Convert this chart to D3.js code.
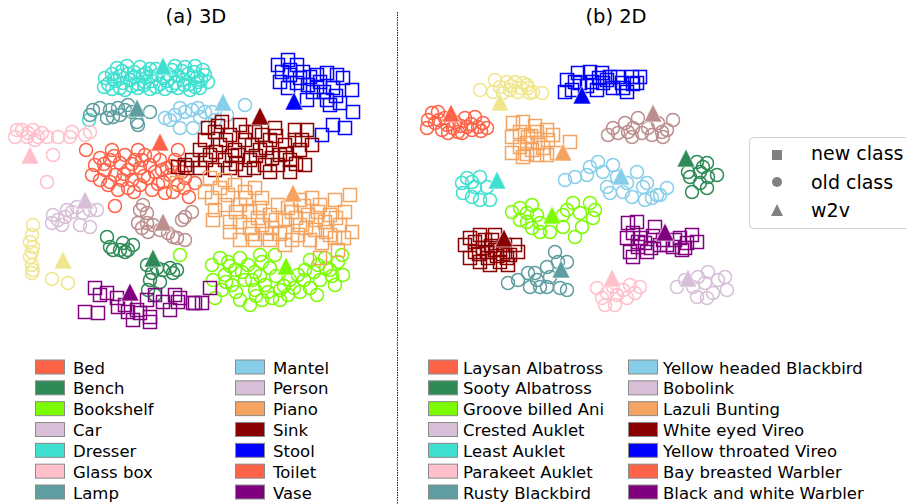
<!DOCTYPE html>
<html>
<head>
<meta charset="utf-8">
<script src="https://cdn.jsdelivr.net/npm/d3@7"></script>
<style>
  body { margin: 0; background: #fff; }
  svg { display: block; font-family: "DejaVu Sans", sans-serif; }
</style>
</head>
<body>
<svg id="chart" width="906" height="504"></svg>
<script>
// ---------- class colours ----------
const classColor = {
  bed: "#FF6347", bench: "#2E8B57", bookshelf: "#7CFC00", car: "#D8BFD8",
  dresser: "#40E0D0", glassBox: "#FFC0CB", lamp: "#5F9EA0", mantel: "#87CEEB",
  person: "#D8BFD8", piano: "#F4A460", sink: "#8B0000", stool: "#0000FF",
  toilet: "#FF6347", vase: "#800080", khakiGroup: "#F0E68C", rosyGroup: "#BC8F8F"
};

// ---------- (a) 3D embedding: old classes (circles) ----------
const dresser3d = [[-41.5,56],[-36.5,57],[-30,56.5],[-25,55.5],[-12.5,57],[-7.5,56.5],[-2.5,57],[1.5,55],
  [-47.5,51],[-44,53],[-40,52],[-36,53],[-32.5,51.5],[-28.5,52.5],[-25,51.5],[-21,52.5],[-16,53],[-11,52],[-6,53],[-1.5,51.5],[2.5,52.5],
  [-46,48],[-42.5,49.5],[-38.5,48.5],[-35,50],[-31,48],[-27.5,49],[-24,49.5],[-20,48],[-16.5,49.5],[-12.5,48.5],[-8.5,50],[-5,48],[-1,49],
  [-44,45.5],[-37.5,45],[-31,46],[-25,45.5],[-17.5,45.5],[-11,46],[-5,45],[0,46],[-55.5,30],
  [-43,50.5],[-39,54.5],[-33,54],[-27,53.5],[-22,55.5],[-18,51],[-14,55],[-9,54.5],[-3,54],[0.5,50],
  [-48,46.5],[-40,46],[-34,47],[-28,47.5],[-22,46.5],[-14,47],[-8,47.5],[-2.5,46.5],[4,49]];
const lamp3d = [[-53.5,35],[-55,32.5],[-45,35],[-43.5,31.5],[-41,36],[-37.5,35],[-34,34],[-31.5,29],[-31,27.5],[-25,34],[-46.5,31],[-50,36],[-40,32.5],[-36,37.5]];
const mantel3d = [[-17.5,31],[-15,30],[-10,36],[-7.5,34],[-4,35],[-10,26],[-3.5,26],[0,31.5],[2.5,34],[6,34],[7.5,30],[13.5,32.5],[22.5,37.5],[-12.5,32.5],[-1,36]];
const glassBox3d = [[-92.5,21.5],[-89,25],[-86.5,21.5],[-83.5,25],[-82.5,20],[-81,21.5],[-76.5,21.5],[-71,21.5],[-65,21.5],[-64,24],[-57.5,22.5],[-55,24],[-73.5,12.5],[-76.5,-1],[-91.5,25],[-86,23.5],[-79,23.5]];
const bed3d = [[-57,15],[-52.5,7.5],[-50,11],[-47.5,5],[-45,10],[-42.5,2.5],[-40,8.5],[-37.5,12.5],[-36,5],[-34,0],[-32.5,10],[-30,6],[-27.5,12.5],[-26,1],[-25,7.5],[-22.5,4],[-20,10],[-18.5,-1],[-16.5,6],[-15,2.5],[-12.5,10],[-11,-2.5],
  [-50,0],[-46,-2.5],[-41,-5],[-36,-4],[-30,-2.5],[-24,-5],[-17.5,-6.5],[-13.5,-6],[-54,2.5],[-44,15],[-31,15],[-7.5,1],[-2.5,-1.5],[-11,15],[-42.5,-13],[-5.5,-8.5],
  [-48,8],[-43,12],[-38,3],[-34,8],[-29,10],[-23,12],[-19,5],[-14,7],[-9,4],[-45,-1],[-39,0],[-28,2],[-21,-2],[-33,-6],[-8,-4]];
const bookshelf3d = [[6,-42.5],[10,-39],[14,-41],[17.5,-45],[20,-39],[24,-42.5],[27.5,-46],[31,-41],[35,-44],[12.5,-47.5],[16,-52.5],[22.5,-50],[27.5,-55],[32.5,-52.5],[36,-59],[40,-55],[45,-50],[49,-47.5],[52.5,-45],[55,-40],
  [59,-42.5],[62.5,-39],[65,-45],[69,-41],[71.5,-47.5],[67.5,-52.5],[60,-50],[55,-54],[50,-56],[44,-57.5],[31,-60],[25,-62.5],[20,-60],[11,-55],[7.5,-59],[30,-37.5],[37.5,-37.5],[58.5,-57.5],[71,-37.5],[6.5,-50],[-10,-37.5],
  [15,-43],[21,-46],[26,-50],[30,-48],[34,-56],[38,-48],[42,-53],[47,-54],[52,-50],[57,-46],[63,-44],[66,-48],[18,-56],[13,-51],[28,-58],[40,-60]];
const car3d = [[-73.5,-17.5],[-71,-20],[-69,-22.5],[-67.5,-18.5],[-64,-16],[-61.5,-13.5],[-58.5,-16.5],[-55,-15],[-51.5,-15],[-60,-22.5],[-55,-23.5],[-74,-21.5],[-66.5,-15]];
const khaki3d = [[-83.5,-22.5],[-84,-27.5],[-85,-31],[-83.5,-33.5],[-84,-36],[-85,-38.5],[-84,-42.5],[-83.5,-45],[-84,-46.5],[-74,-49.5],[-66,-51.5]];
const rosy3d = [[-28.5,-12.5],[-30,-15],[-26.5,-16.5],[-31,-21.5],[-29,-24],[-26,-26],[-23.5,-22.5],[-20,-25],[-16,-26.5],[-13.5,-28.5],[-11.5,-29],[-7.5,-30],[-9,-20],[-4,-16],[-26.5,-21.5],[-7.5,-18.5]];
const bench3d = [[-46.5,-28.5],[-45,-33.5],[-43.5,-35],[-40,-35],[-38.5,-31.5],[-36,-35],[-33.5,-32.5],[-37.5,-36],[-26.5,-42.5],[-24,-46.5],[-21.5,-44],[-18.5,-45],[-15,-44],[-13.5,-46.5],[-11.5,-45],[-25,-50],[-20,-51],[-26,-55],[-22.5,-57.5]];

// ---------- (a) 3D embedding: new classes (squares) ----------
const sink3d = [[-11,6.5],[-7.5,7.5],[-4,10],[0,15],[2.5,20],[5,12.5],[7.5,24],[10,17.5],[12.5,10],[15,22.5],[17.5,15],[20,27.5],[22.5,20],[25,10],[27.5,24],[30,15],[32.5,7.5],[35,20],[37.5,26],[40,12.5],
  [42.5,17.5],[45,10],[47.5,25],[50,15],[52.5,7.5],[56,17.5],[22.5,5],[15,6],[7.5,5],[35,4],[45,4],[0,6],[4,26],[11,29],[19,12.5],[26,17.5],[31,22.5],[39,7.5],[47.5,20],[53.5,25],[-6.5,6],
  [3,10],[8,14],[13,20],[18,8],[23,24],[28,12],[33,16],[38,22],[43,13],[48,8],[51,20],[27,6],[16,12],[36,11],[9,27]];
const stool3d = [[39,57.5],[44,60],[48.5,57.5],[40,49],[45,52.5],[51.5,54],[55,51.5],[58.5,52.5],[63.5,53.5],[68.5,52.5],[71.5,51],[76,45],[66.5,46],[63.5,40],[65,37.5],[70,38.5],[76.5,34],[61,22.5],[66.5,27.5],[72.5,26],
  [54,47.5],[48.5,48.5],[58.5,46.5],[53.5,40],[56.5,44],[45,55],[41,54],[50,51],[60,49],[62,44],[68,42],[44,46]];
const piano3d = [[2.5,-6],[6,-9],[10,-4],[14,-7.5],[17.5,-2.5],[22.5,-6],[27.5,-4],[31,-9],[7.5,-15],[12.5,-12.5],[20,-12.5],[25,-16],[30,-14],[35,-17.5],[39,-12.5],[42.5,-20],[46,-16],[50,-22.5],[54,-17.5],[57.5,-25],
  [60,-12.5],[65,-17.5],[70,-22.5],[72.5,-16],[76,-26],[67.5,-29],[62.5,-21],[55,-30],[49,-27.5],[42.5,-26],[36,-24],[31,-22.5],[25,-24],[20,-21],[15,-21],[56,-9],[50,-10],[20,-30],[27.5,-30],[35,-30],
  [42.5,-32.5],[61,-31.5],[69,-35],[15,-26],[6.5,-20],[75,-7.5],[67.5,-10],[65,-27.5],[5,1],[12.5,0],[60,-39],[-11.5,-1.5],
  [18,-16],[23,-9],[29,-19],[33,-27],[38,-20],[44,-14],[48,-19],[52,-13],[58,-20],[63,-26],[68,-19],[72,-29],[46,-30],[40,-27],[26,-27],[53,-24],[59,-16]];
const vase3d = [[-52.5,-54],[-50,-57.5],[-46.5,-56.5],[-41.5,-59],[-41,-63.5],[-37.5,-62.5],[-36,-66],[-31.5,-65],[-30,-66.5],[-25,-68.5],[-26.5,-60],[-22.5,-57.5],[-18.5,-61],[-15,-65],[-12.5,-57.5],[-11,-61],[-3.5,-61.5],
  [-57.5,-66],[-51,-66.5],[-33.5,-70],[-25,-71],[5,-54],[-2.5,-61.5],[1,-61.5],[-10,-59]];

// ---------- (a) 3D embedding: word-vector anchors (triangles) ----------
const w2v3d = [["dresser",-18.5,57],["lamp",-31.5,36],["mantel",11.5,39],["glassBox",-85,12.5],["bed",-20,19],["sink",30,32],["stool",47,39.5],
  ["piano",46.5,-6.5],["bookshelf",43,-43],["car",-57.5,-10],["khakiGroup",-68.5,-40],["rosyGroup",-18.5,-21],["bench",-23.5,-39],["vase",-35,-56]];

// ---------- (b) 2D embedding: old classes (circles) ----------
const khaki2d = [[-67.5,45],[-61,44],[-60,50],[-57.5,46.5],[-54,49],[-52.5,45],[-50,49],[-48.5,44],[-46,48.5],[-43.5,46],[-41,44],[-36.5,43.5],[-56,43.5],[-42.5,43.5],[-52,47],[-47,46],[-44,47.5]];
const laysan2d = [[-94,26],[-91.5,33.5],[-88.5,34],[-90,28.5],[-86.5,25],[-84,27.5],[-81,26],[-78.5,24],[-75,31],[-74,26.5],[-71.5,25],[-70,31.5],[-68.5,26.5],[-66,28.5],[-64,26],[-93.5,30],[-83.5,23.5],[-76.5,23.5],
  [-88,30],[-80,29],[-77,27],[-72,28],[-67,24.5],[-85,31]];
const rosy2d = [[-3.5,22.5],[-1,26],[1.5,23.5],[5,28.5],[6.5,24],[9,26],[11.5,31],[13.5,23.5],[16.5,26],[18.5,22.5],[21.5,28.5],[23.5,24],[26,25],[29,30],[24,21.5],[8.5,21.5]];
const sooty2d = [[36.5,4],[37.5,1.5],[41,9],[42.5,4],[44,6.5],[46,8.5],[46.5,1.5],[51,2.5],[38.5,-6],[46,-4],[42.5,-1.5]];
const yellowHeaded2d = [[-25,0],[-20,1.5],[-14,2.5],[-12.5,6.5],[-8.5,9],[-6,4],[-4,-3.5],[-1,7.5],[1,1.5],[4,-6],[6,-1.5],[11,4],[14,-3.5],[16,-1.5],[21,-7.5],[26,-4],[-2.5,-6.5],[8.5,-8.5],[15,-10],[18.5,-9],[22.5,-7.5]];
const leastAuklet2d = [[-76.5,-1.5],[-74,1],[-71.5,-1],[-67.5,1.5],[-64,-3.5],[-76,-6.5],[-71.5,-8.5],[-67.5,-10],[-62.5,-10],[-70,-3.5]];
const grooveBilled2d = [[-51.5,-16],[-47.5,-14],[-44,-16.5],[-41.5,-12.5],[-39,-17.5],[-44,-21],[-41.5,-24],[-37.5,-26],[-32.5,-26],[-37.5,-21.5],[-26,-17.5],[-24,-15],[-21,-11.5],[-17.5,-16.5],[-16.5,-23.5],[-20,-28.5],[-12.5,-11.5],[-10,-15],[-26,-23.5],[-47.5,-20],[-11,-19]];
const rusty2d = [[-53.5,-51.5],[-48.5,-50],[-43.5,-46.5],[-39,-50],[-37.5,-53.5],[-34,-43.5],[-30,-36],[-28.5,-41],[-24,-41],[-32.5,-48.5],[-27.5,-54],[-24,-55],[-42.5,-53.5],[-34,-53.5],[-40,-46.5]];
const parakeet2d = [[-9,-54],[-6.5,-59],[-4,-56.5],[-1,-53.5],[1,-57.5],[4,-55],[7.5,-52.5],[10,-56.5],[12.5,-53.5],[6,-59],[-5,-62.5],[0,-62.5]];
const bobolink2d = [[31,-53.5],[35,-50],[39,-53.5],[41.5,-48.5],[45,-51.5],[46.5,-46],[49,-56.5],[51.5,-50],[55,-48.5],[56,-55],[46,-59],[41,-58.5]];

// ---------- (b) 2D embedding: new classes (squares) ----------
const lazuli2d = [[-51,28.5],[-46,29],[-51.5,21.5],[-47.5,24],[-43.5,21.5],[-39,24],[-34,25],[-31,22.5],[-51.5,13.5],[-46,11.5],[-41.5,15],[-39,12.5],[-34,12.5],[-29,13.5],[-22.5,19],[-44,18.5],[-38.5,18.5],[-33.5,20],[-47.5,16.5],
  [-42,22],[-36,16],[-44,13],[-40,27]];
const yellowThroated2d = [[-24,50],[-21.5,45],[-18.5,53.5],[-17.5,48.5],[-12.5,54],[-11.5,49],[-9,45],[-6.5,53.5],[-6,48.5],[-2.5,51.5],[-1,46],[1.5,51.5],[3.5,48.5],[6,44],[8.5,51.5],[11,48.5],[12.5,51.5],[-25,44],
  [-14,47],[-4,50],[4,46],[9,48],[-20,49],[-8,51]];
const whiteEyed2d = [[-75,-32.5],[-72.5,-29],[-70,-36],[-67.5,-27.5],[-66,-34],[-63.5,-39],[-61.5,-30],[-60,-35],[-57.5,-41],[-55,-32.5],[-52.5,-37.5],[-50,-32.5],[-72.5,-39],[-67.5,-41],[-62.5,-42.5],[-57.5,-35],[-53.5,-42.5],[-48.5,-36],[-70,-31],[-60,-27.5],
  [-64,-36],[-59,-38],[-56,-37],[-62,-33],[-68,-37],[-54,-39],[-65,-30]];
const blackWhite2d = [[6.5,-21.5],[11,-21],[6,-29],[9,-26.5],[7.5,-36],[11.5,-33.5],[15,-31.5],[20,-23.5],[22.5,-32.5],[26,-32.5],[29,-33.5],[32.5,-29],[36,-31.5],[38.5,-27.5],[41,-31],[33.5,-35],[16,-36],[9,-38.5],[11.5,-31],
  [13,-29],[19,-28],[24,-30],[30,-30],[35,-34],[18,-34]];

// ---------- (b) 2D embedding: word-vector anchors (triangles) ----------
const w2v2d = [["khakiGroup",-57.5,39],["laysan",-82,33.5],["lazuli",-26,14],["yellowThroated",-16.5,42.5],["rosyGroup",19,33.5],["sooty",35.5,11],
  ["yellowHeaded",3,2],["leastAuklet",-59,0],["grooveBilled",-31.5,-17.5],["whiteEyed",-55.5,-29],["rusty",-27,-44.5],["blackWhite",25,-26],
  ["parakeet",-1.5,-49],["bobolink",36.5,-49]];

const birdColor = {
  laysan: "#FF6347", sooty: "#2E8B57", grooveBilled: "#7CFC00", crested: "#D8BFD8", leastAuklet: "#40E0D0",
  parakeet: "#FFC0CB", rusty: "#5F9EA0", yellowHeaded: "#87CEEB", bobolink: "#D8BFD8", lazuli: "#F4A460",
  whiteEyed: "#8B0000", yellowThroated: "#0000FF", bayBreasted: "#FF6347", blackWhite: "#800080",
  khakiGroup: "#F0E68C", rosyGroup: "#BC8F8F"
};

// ---------- legend labels ----------
const legend3dKeys = ["bed","bench","bookshelf","car","dresser","glassBox","lamp","mantel","person","piano","sink","stool","toilet","vase"];
const legend3dLabels = ["Bed","Bench","Bookshelf","Car","Dresser","Glass box","Lamp","Mantel","Person","Piano","Sink","Stool","Toilet","Vase"];
const legend2dKeys = ["laysan","sooty","grooveBilled","crested","leastAuklet","parakeet","rusty","yellowHeaded","bobolink","lazuli","whiteEyed","yellowThroated","bayBreasted","blackWhite"];
const legend2dLabels = ["Laysan Albatross","Sooty Albatross","Groove billed Ani","Crested Auklet","Least Auklet","Parakeet Auklet","Rusty Blackbird",
  "Yellow headed Blackbird","Bobolink","Lazuli Bunting","White eyed Vireo","Yellow throated Vireo","Bay breasted Warbler","Black and white Warbler"];
const markerLabels = ["new class","old class","w2v"];

// ---------- drawing ----------
const svg = d3.select("#chart");

const yScale = d3.scaleLinear().domain([-80, 80]).range([340, 20]);
const x3 = d3.scaleLinear().domain([-100, 100]).range([0, 400]);
const x2 = d3.scaleLinear().domain([-100, 100]).range([415, 815]);

const CIRCLE_R = 6.5, SQUARE = 13, TRI = 9;
const triPath = `M0,${-TRI}L${TRI},${TRI}L${-TRI},${TRI}Z`;

function drawCircles(g, xs, pts, color) {
  g.append("g").selectAll("circle").data(pts).join("circle")
    .attr("cx", d => xs(d[0])).attr("cy", d => yScale(d[1])).attr("r", CIRCLE_R)
    .attr("fill", "none").attr("stroke", color).attr("stroke-width", 1.5);
}
function drawSquares(g, xs, pts, color) {
  g.append("g").selectAll("rect").data(pts).join("rect")
    .attr("x", d => xs(d[0]) - SQUARE / 2).attr("y", d => yScale(d[1]) - SQUARE / 2)
    .attr("width", SQUARE).attr("height", SQUARE)
    .attr("fill", "none").attr("stroke", color).attr("stroke-width", 1.5);
}
function drawTriangles(g, xs, anchors, colors) {
  g.append("g").selectAll("path").data(anchors).join("path")
    .attr("d", triPath)
    .attr("transform", d => `translate(${xs(d[1])},${yScale(d[2])})`)
    .attr("fill", d => colors[d[0]]).attr("stroke", "#fff").attr("stroke-width", 0.6);
}

// panel (a)
const gA = svg.append("g");
[[dresser3d,"dresser"],[lamp3d,"lamp"],[mantel3d,"mantel"],[glassBox3d,"glassBox"],[bed3d,"bed"],[car3d,"car"],
 [khaki3d,"khakiGroup"],[rosy3d,"rosyGroup"],[bench3d,"bench"],[bookshelf3d,"bookshelf"]]
  .forEach(([pts, k]) => drawCircles(gA, x3, pts, classColor[k]));
[[sink3d,"sink"],[stool3d,"stool"],[piano3d,"piano"],[vase3d,"vase"]]
  .forEach(([pts, k]) => drawSquares(gA, x3, pts, classColor[k]));
drawTriangles(gA, x3, w2v3d, classColor);

// panel (b)
const gB = svg.append("g");
[[khaki2d,"khakiGroup"],[laysan2d,"laysan"],[rosy2d,"rosyGroup"],[sooty2d,"sooty"],[yellowHeaded2d,"yellowHeaded"],
 [leastAuklet2d,"leastAuklet"],[grooveBilled2d,"grooveBilled"],[rusty2d,"rusty"],[parakeet2d,"parakeet"],[bobolink2d,"bobolink"]]
  .forEach(([pts, k]) => drawCircles(gB, x2, pts, birdColor[k]));
[[lazuli2d,"lazuli"],[yellowThroated2d,"yellowThroated"],[whiteEyed2d,"whiteEyed"],[blackWhite2d,"blackWhite"]]
  .forEach(([pts, k]) => drawSquares(gB, x2, pts, birdColor[k]));
drawTriangles(gB, x2, w2v2d, birdColor);

// titles
svg.append("text").attr("x", 196).attr("y", 23).attr("text-anchor", "middle")
  .attr("font-size", 19.5).attr("fill", "#000").text("(a) 3D");
svg.append("text").attr("x", 616).attr("y", 23).attr("text-anchor", "middle")
  .attr("font-size", 19.5).attr("fill", "#000").text("(b) 2D");

// dotted divider
svg.append("line").attr("x1", 397.5).attr("x2", 397.5).attr("y1", 12).attr("y2", 504)
  .attr("stroke", "#222").attr("stroke-width", 1).attr("stroke-dasharray", "1.5,1");

// class legends below each panel
const rowY = d3.scaleLinear().domain([0, 6]).range([367, 492]);
function classLegend(keys, labels, colors, colX, textGap) {
  const g = svg.append("g").attr("font-size", 16.5);
  keys.forEach((k, i) => {
    const col = Math.floor(i / 7), row = i % 7;
    const x = colX[col], y = rowY(row);
    g.append("rect").attr("x", x).attr("y", y - 7).attr("width", 29).attr("height", 14)
      .attr("fill", colors[k]).attr("stroke", "#8a8a8a").attr("stroke-width", 1);
    g.append("text").attr("x", x + textGap).attr("y", y + 6.5).attr("fill", "#000").text(labels[i]);
  });
}
classLegend(legend3dKeys, legend3dLabels, classColor, [35.5, 235.5], 37.5);
classLegend(legend2dKeys, legend2dLabels, birdColor, [428.5, 628.5], 34.5);

// marker-type legend
const mg = svg.append("g");
mg.append("rect").attr("x", 749.5).attr("y", 137.5).attr("width", 200).attr("height", 91).attr("rx", 4)
  .attr("fill", "#fff").attr("stroke", "#d0d0d0").attr("stroke-width", 1);
const mRows = [155, 182, 210];
mg.append("rect").attr("x", 777 - 5).attr("y", mRows[0] - 5).attr("width", 10).attr("height", 10).attr("fill", "#808080");
mg.append("circle").attr("cx", 777).attr("cy", mRows[1]).attr("r", 5).attr("fill", "#808080");
mg.append("path").attr("d", "M0,-6L6,6L-6,6Z").attr("transform", `translate(777,${mRows[2]})`).attr("fill", "#808080");
markerLabels.forEach((t, i) => {
  mg.append("text").attr("x", 811).attr("y", [160, 188.5, 217][i]).attr("font-size", 19).attr("fill", "#000").text(t);
});
</script>
</body>
</html>
